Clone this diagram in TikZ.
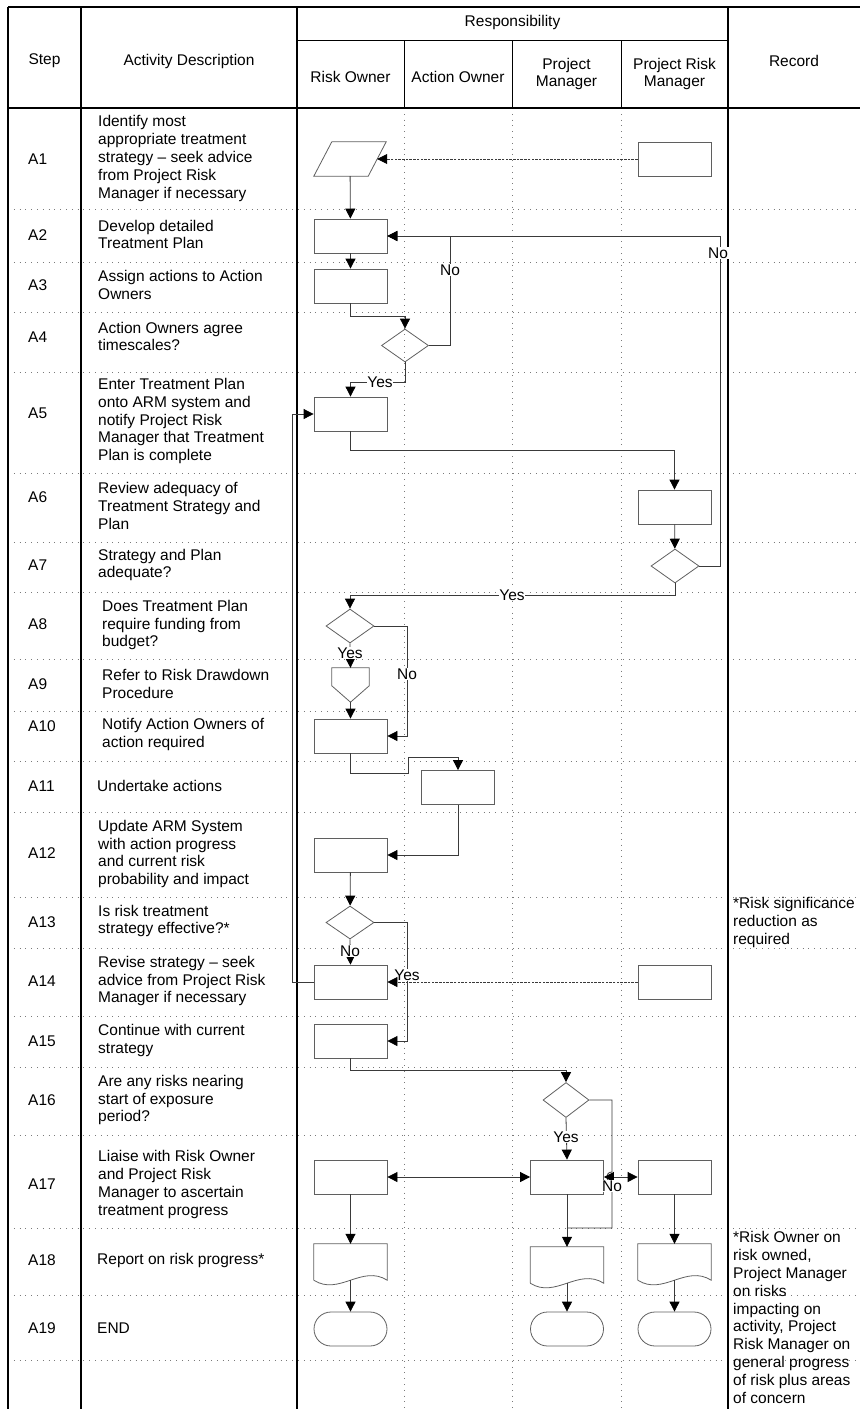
\documentclass[tikz,border=0pt]{standalone}
\usepackage{fontspec}
\setmainfont{Liberation Sans}
\usetikzlibrary{shapes.geometric,shapes.misc,arrows.meta}

\definecolor{shapegray}{HTML}{5F5F5F}
\definecolor{linegray}{HTML}{3A3A3A}
\definecolor{gridgray}{HTML}{7A7A7A}

\tikzset{
  txt/.style={font=\fontsize{15.5}{17.9}\selectfont, inner sep=0pt, align=left},
  hdr/.style={txt, align=center},
  lbl/.style={txt, fill=white, inner sep=0.8pt},
  frame/.style={line width=1.6pt, black},
  grid/.style={gridgray, line width=0.8pt, dash pattern=on 0.8pt off 5pt},
  box/.style={draw=shapegray, line width=0.8pt, minimum width=73pt, minimum height=34pt, inner sep=0pt},
  dec/.style={diamond, draw=shapegray, line width=0.8pt, minimum width=48pt, minimum height=34pt, inner sep=0pt},
  para/.style={minimum width=72pt, minimum height=34pt, inner sep=0pt},
  offpg/.style={minimum width=37pt, minimum height=34pt, inner sep=0pt},
  doc/.style={minimum width=73pt, minimum height=36pt, inner sep=0pt},
  term/.style={rounded rectangle, draw=shapegray, line width=0.8pt, minimum width=73pt, minimum height=34pt, inner sep=0pt},
  outline/.style={shapegray, line width=0.8pt},
  tip/.style={-{Triangle[length=10pt,width=10pt,color=black]}},
  conn/.style={draw=linegray, line width=0.8pt, tip},
  dashconn/.style={conn, dash pattern=on 2.5pt off 1.2pt},
  dblconn/.style={draw=linegray, line width=0.8pt,
    {Triangle[length=10pt,width=10pt,color=black]}-{Triangle[length=10pt,width=10pt,color=black]}},
  joinline/.style={draw=linegray, line width=0.8pt}
}

\begin{document}
\begin{tikzpicture}[x=1pt, y=-1pt]
\useasboundingbox (0,0) rectangle (860,1409);

% Dotted grid
\foreach \x in {404,512,621} \draw[grid] (\x,108) -- (\x,1409);
\foreach \y in {209,262,312,372,473,542,592,659,711,761,812,897,948,1016,1067,1135,1228,1295,1360}
  \draw[grid] (8,\y) -- (860,\y);

% Table frame
\draw[frame] (8,7) -- (860,7);
\draw[frame] (8,108) -- (860,108);
\foreach \x in {8,81,297,728} \draw[frame] (\x,7) -- (\x,1409);
\draw[line width=0.8pt] (297,40) -- (728,40);
\foreach \x in {404,512,621} \draw[line width=0.8pt] (\x,40) -- (\x,108);

% Header
\node[hdr] (hstep) at (44.5,61) {Step};
\node[hdr] (hdesc) at (189,61) {Activity Description};
\node[hdr] (hresp) at (512.5,22) {Responsibility};
\node[hdr] (hro) at (350.5,77) {Risk Owner};
\node[hdr] (hao) at (458,77) {Action Owner};
\node[hdr] (hpm) at (566.5,74) {Project\\Manager};
\node[hdr] (hprm) at (674.5,74) {Project Risk\\Manager};
\node[hdr] (hrec) at (794,61) {Record};

% Steps
\foreach \n/\y in {1/159,2/235,3/285,4/337,5/413,6/497,7/565,8/624,9/684,10/726,
                   11/786,12/853,13/922,14/981,15/1041,16/1100,17/1184,18/1260,19/1328}
  \node[txt, anchor=west] (s\n) at (28,\y) {A\n};

% Activity descriptions
\node[txt, anchor=west] (d1) at (98,158.5) {Identify most\\appropriate treatment\\strategy – seek advice\\from Project Risk\\Manager if necessary};
\node[txt, anchor=west] (d2) at (98,234.5) {Develop detailed\\Treatment Plan};
\node[txt, anchor=west] (d3) at (98,285) {Assign actions to Action\\Owners};
\node[txt, anchor=west] (d4) at (98,336.5) {Action Owners agree\\timescales?};
\node[txt, anchor=west] (d5) at (98,421) {Enter Treatment Plan\\onto ARM system and\\notify Project Risk\\Manager that Treatment\\Plan is complete};
\node[txt, anchor=west] (d6) at (98,506) {Review adequacy of\\Treatment Strategy and\\Plan};
\node[txt, anchor=west] (d7) at (98,565) {Strategy and Plan\\adequate?};
\node[txt, anchor=west] (d8) at (102,625) {Does Treatment Plan\\require funding from\\budget?};
\node[txt, anchor=west] (d9) at (102,684) {Refer to Risk Drawdown\\Procedure};
\node[txt, anchor=west] (d10) at (102,734.5) {Notify Action Owners of\\action required};
\node[txt, anchor=west] (d11) at (97,786) {Undertake actions};
\node[txt, anchor=west] (d12) at (98,854) {Update ARM System\\with action progress\\and current risk\\probability and impact};
\node[txt, anchor=west] (d13) at (98,921) {Is risk treatment\\strategy effective?*};
\node[txt, anchor=west] (d14) at (98,981) {Revise strategy – seek\\advice from Project Risk\\Manager if necessary};
\node[txt, anchor=west] (d15) at (98,1040.5) {Continue with current\\strategy};
\node[txt, anchor=west] (d16) at (98,1100) {Are any risks nearing\\start of exposure\\period?};
\node[txt, anchor=west] (d17) at (98,1184.5) {Liaise with Risk Owner\\and Project Risk\\Manager to ascertain\\treatment progress};
\node[txt, anchor=west] (d18) at (97,1260) {Report on risk progress*};
\node[txt, anchor=west] (d19) at (97,1328) {END};

% Records
\node[txt, anchor=north west] (rec13) at (733,897) {*Risk significance\\reduction as\\required};
\node[txt, anchor=north west] (rec18) at (733,1231) {*Risk Owner on\\risk owned,\\Project Manager\\on risks\\impacting on\\activity, Project\\Risk Manager on\\general progress\\of risk plus areas\\of concern};

% Flow shapes
\node[para] (a1) at (350,159) {};
\node[box] (p1) at (674.5,159) {};
\node[box] (a2) at (350.5,236) {};
\node[box] (a3) at (350.5,286) {};
\node[dec, minimum width=47pt, minimum height=33pt] (a4) at (405,345.5) {};
\node[box] (a5) at (350.5,414) {};
\node[box] (a6) at (674.5,507) {};
\node[dec] (a7) at (675,566) {};
\node[dec] (a8) at (350,626) {};
\node[offpg] (a9) at (350.5,685) {};
\node[box] (a10) at (350.5,736) {};
\node[box] (a11) at (458,787.5) {};
\node[box] (a12) at (350.5,855) {};
\node[dec, minimum height=33pt] (a13) at (350,922.5) {};
\node[box] (a14) at (350.5,982) {};
\node[box] (p14) at (674.5,982) {};
\node[box] (a15) at (350.5,1041) {};
\node[dec, minimum width=46pt, minimum height=35pt] (a16) at (566,1100) {};
\node[box] (r17) at (350.5,1177) {};
\node[box] (m17) at (567,1177) {};
\node[box] (p17) at (674.5,1177) {};
\node[doc] (r18) at (350.5,1262) {};
\node[doc] (m18) at (567,1265) {};
\node[doc] (p18) at (674.5,1262) {};
\node[term] (r19) at (350.5,1329) {};
\node[term] (m19) at (567,1329) {};
\node[term] (p19) at (674.5,1329) {};

% Parallelogram, off-page connector and documents
\draw[outline] (a1.south west) -- ([xshift=-18pt]a1.south east) -- (a1.north east)
  -- ([xshift=18pt]a1.north west) -- cycle;
\draw[outline] (a9.north west) -- (a9.north east) -- ([yshift=-18pt]a9.north east)
  -- (a9.south) -- ([yshift=-18pt]a9.north west) -- cycle;
\foreach \n in {r18,m18,p18}
  \draw[outline] (\n.south west) -- (\n.north west) -- (\n.north east) -- (\n.south east)
    .. controls +(-25,-16) and +(25,16) .. (\n.south west);

% Connectors
\draw[conn] (a1) -- (a2);
\draw[conn] (a2) -- (a3);
\draw[conn] (a3.south) -- ++(0,13) -| (a4.north);
\draw[conn] (a4.east) -- ++(21.5,0) |- (a2.east);
\draw[conn] (a4.south) -- ++(0,20) -| (a5.north);
\draw[conn] (a5.south) -- ++(0,19) -| (a6.north);
\draw[conn] (a6) -- (a7);
\draw[conn] (a7.east) -- ++(21,0) |- (a2.east);
\draw[conn] (a7.south) -- ++(0,12) -| (a8.north);
\draw[conn] (a8.east) -- ++(33,0) |- (a10.east);
\draw[conn] (a8.south) -- (a9.north);
\draw[conn] (a9.south) -- (a10.north);
\draw[conn] (a10.south) -- ++(0,20) -- ++(58,0) -- ++(0,-16) -| (a11.north);
\draw[conn] (a11.south) |- (a12.east);
\draw[conn] (a12) -- (a13);
\draw[conn] (a13.east) -- ++(33,0) |- (a15.east);
\draw[conn] (a13.south) -- (a14.north);
\draw[conn] (a14.west) -- ++(-21,0) |- (a5.west);
\draw[conn] (a15.south) -- ++(0,12) -| (a16.north);
\draw[conn] (a16.south) -- (m17.north);
\draw[joinline] (a16.east) -| (612,1172) .. controls (605,1172) and (605,1182) .. (612,1182)
  -- (612,1228) -- (m17.south |- 0,1228);
\draw[dblconn] (r17) -- (m17);
\draw[dblconn] (m17) -- (p17);
\foreach \n in {r,m,p} {
  \draw[conn] (\n17) -- (\n18.north);
  \draw[conn] (\n18.south) -- (\n19);
}

% Yes / No labels
\node[lbl] (no4) at (450,270) {No};
\node[lbl] (no7) at (718,253) {No};
\node[lbl] (yes4) at (380,382) {Yes};
\node[lbl] (yes7) at (512,595) {Yes};
\node[lbl] (no8) at (407,674) {No};
\node[lbl] (yes8) at (350,653) {Yes};
\node[lbl] (yes13) at (407,975) {Yes};
\node[lbl] (no13) at (350,951) {No};
\node[lbl] (yes16) at (566,1137) {Yes};
\node[lbl] (no16) at (612,1186) {No};

% Advice from Project Risk Manager
\draw[dashconn] (p1.west) -- ([xshift=-9pt]a1.east);
\draw[dashconn] (p14.west) -- (a14.east);
\end{tikzpicture}
\end{document}
